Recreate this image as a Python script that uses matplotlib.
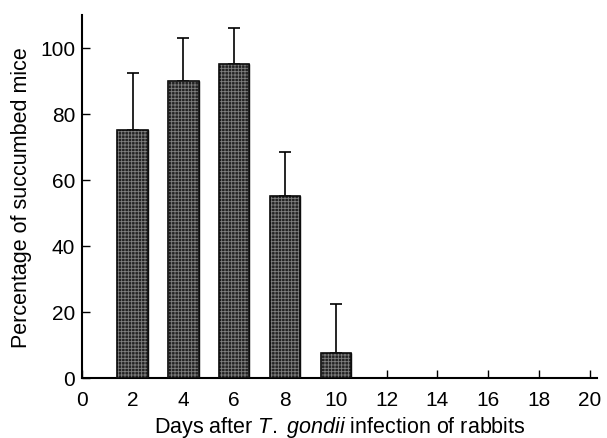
import matplotlib
matplotlib.use("Agg")
import matplotlib.pyplot as plt

plt.rcParams['font.family'] = ['Liberation Sans', 'DejaVu Sans']
plt.rcParams['mathtext.fontset'] = 'custom'
plt.rcParams['mathtext.rm'] = 'Liberation Sans'
plt.rcParams['mathtext.it'] = 'Liberation Sans:italic'
plt.rcParams['hatch.linewidth'] = 0.6

days = [2, 4, 6, 8, 10, 12, 14, 16, 18, 20]
percent = [75, 90, 95, 55, 7.5, 0, 0, 0, 0, 0]
err_up = [17.5, 13, 11, 13.5, 15, 0, 0, 0, 0, 0]
xticks = [0, 2, 4, 6, 8, 10, 12, 14, 16, 18, 20]
yticks = [0, 20, 40, 60, 80, 100]

fig = plt.figure(figsize=(6.07, 4.39), dpi=100)
ax = fig.add_axes([0.135, 0.137, 0.849, 0.827])

d = [x for x, p in zip(days, percent) if p > 0]
p = [v for v in percent if v > 0]
e = [v for v, q in zip(err_up, percent) if q > 0]

# error bars first so the bars cover the lower part
ax.errorbar(d, p, yerr=[[0] * len(e), e], fmt='none', ecolor='black',
            elinewidth=1.2, capsize=4.5, capthick=1.2, zorder=1)
ax.bar(d, p, width=1.2, color='#222222', edgecolor='black', linewidth=1.0, zorder=2)
ax.bar(d, p, width=1.2, color='none', edgecolor='#808080', hatch='+++++',
       linewidth=0, zorder=3)
ax.bar(d, p, width=1.2, color='none', edgecolor='#111111', linewidth=1.2, zorder=4)

ax.set_xlim(0, 20.3)
ax.set_ylim(0, 110)
ax.set_xticks(xticks)
ax.set_yticks(yticks)
ax.tick_params(direction='in', length=6, width=1, labelsize=15)
ax.tick_params(axis='x', pad=9)
ax.tick_params(axis='y', pad=5)
ax.spines['top'].set_visible(False)
ax.spines['right'].set_visible(False)
ax.spines['left'].set_linewidth(1.5)
ax.spines['bottom'].set_linewidth(1.5)

ax.set_xlabel(r'Days after $\mathit{T.}$ $\mathit{gondii}$ infection of rabbits', fontsize=15.5, labelpad=3)
ax.set_ylabel('Percentage of succumbed mice', fontsize=15.5, labelpad=6)

fig.savefig('out.png', dpi=100)
